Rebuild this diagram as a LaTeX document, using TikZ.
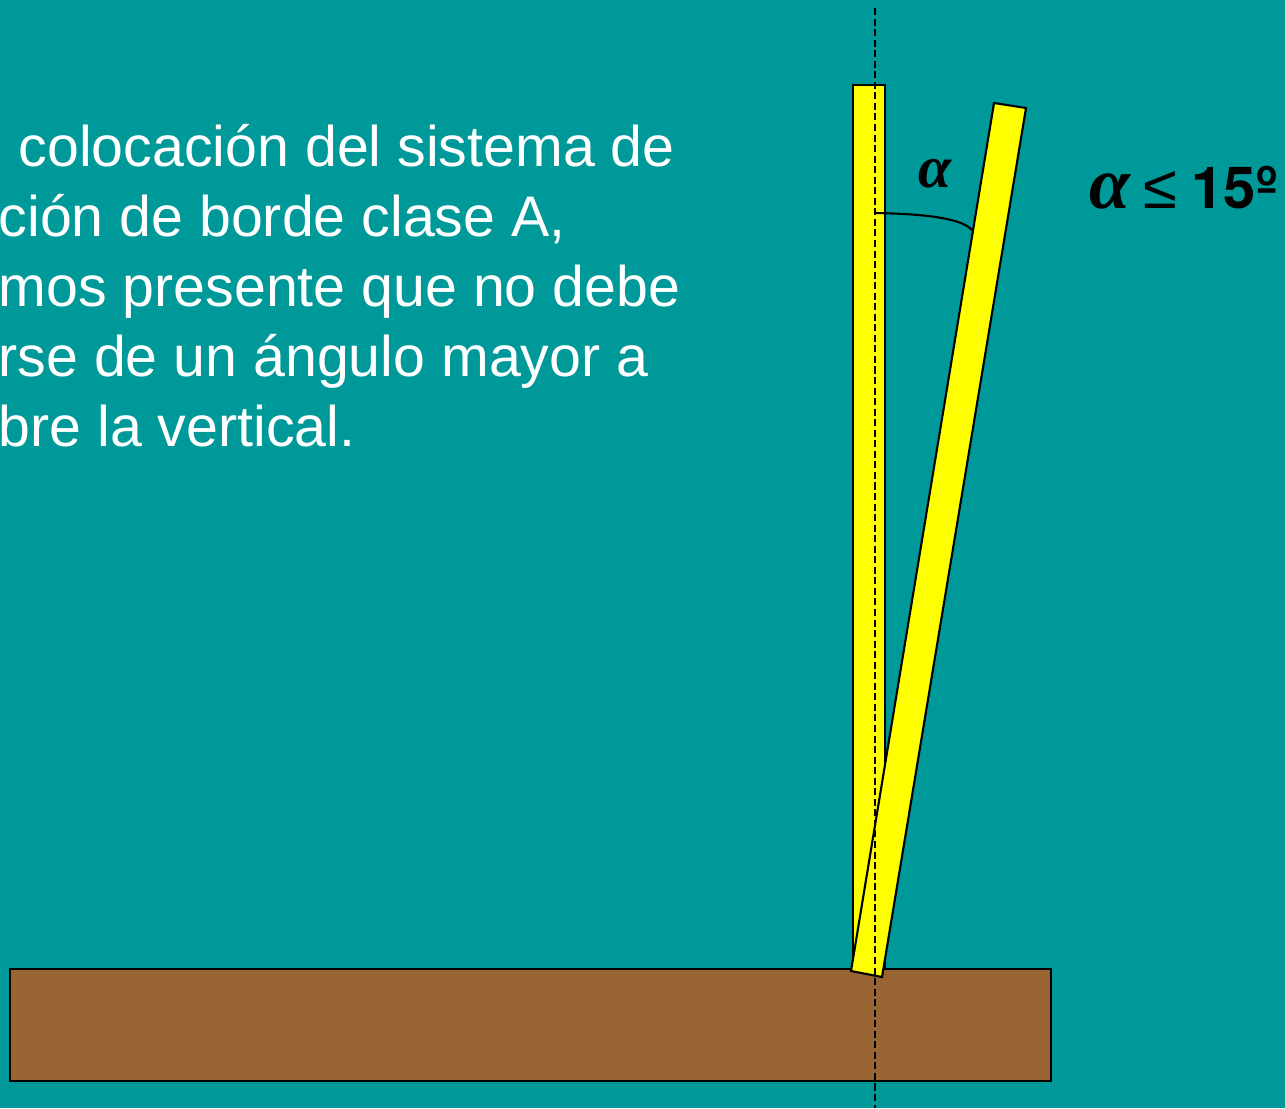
\documentclass[tikz,border=0pt]{standalone}
\usepackage{fontspec}
\setmainfont{Liberation Sans}
\newfontfamily\greekfont{Liberation Serif}
\newfontfamily\herosfont{TeX Gyre Heros}
\usepackage{tikz}
\usetikzlibrary{positioning}
\definecolor{pool}{RGB}{0,153,153}
\definecolor{wood}{RGB}{153,102,51}
\definecolor{board}{RGB}{255,255,0}
\tikzset{
post/.style = { draw = black, fill = board, line width = 0.6pt },
ground/.style = { draw = black, fill = wood, line width = 0.6pt },
plumb/.style = { draw = black, dash pattern = on 2pt off 1pt, line width = 0.6pt },
body line/.style = { anchor = base west, inner sep = 0pt, text = white, font = \fontsize{16.3}{19.9}\selectfont },
angle mark/.style = { anchor = base, inner sep = 0pt, text = black },
}

\begin{document}
\begin{tikzpicture}
      \useasboundingbox (0,0) rectangle (12.85,-11.08);
      \fill[pool] (0,0) rectangle (12.85,-11.08);
      \clip (0,0) rectangle (12.85,-11.08);
      \begin{scope}[every node/.style={body line}]
        \node (l1) at (0.18,-1.66) {colocación del sistema de};
        \node (l2) at (-0.02,-2.36) {ción de borde clase A,};
        \node (l3) at (-0.02,-3.06) {mos presente que no debe};
        \node (l4) at (-0.02,-3.76) {rse de un ángulo mayor a};
        \node (l5) at (-0.02,-4.46) {bre la vertical.};
      \end{scope}
      \path[ground] (0.10,-9.69) rectangle (10.51,-10.81);
      \path[post] (8.53,-0.85) rectangle (8.85,-9.69);
      \path[post] (8.51,-9.71) -- (8.82,-9.77) -- (10.26,-1.08) -- (9.94,-1.03) -- cycle;
      \coordinate (top) at (8.75,-0.08);
      \coordinate (foot) at (8.75,-11.08);
      \path[plumb] (top) -- (foot);
      \coordinate (arc start) at (8.75,-2.13);
      \coordinate (arc end) at (9.72,-2.30);
      \draw[line width = 0.6pt] (arc start) .. controls (9.30,-2.14) and (9.62,-2.19) .. (arc end);
      \node[angle mark, font = \fontsize{17}{18}\selectfont\greekfont\bfseries\itshape] (alpha) at (9.35,-1.87) {α};
      \node[angle mark, anchor = base east, font = \fontsize{16.5}{20}\selectfont\bfseries] (limit) at (12.78,-2.08)
        {{\greekfont\itshape\fontsize{21}{20}\selectfont α}\hspace{0.14cm}{\mdseries\fontsize{17.5}{20}\selectfont ≤}\hspace{0.14cm}{\herosfont\bfseries 15º}};
\end{tikzpicture}
\end{document}
